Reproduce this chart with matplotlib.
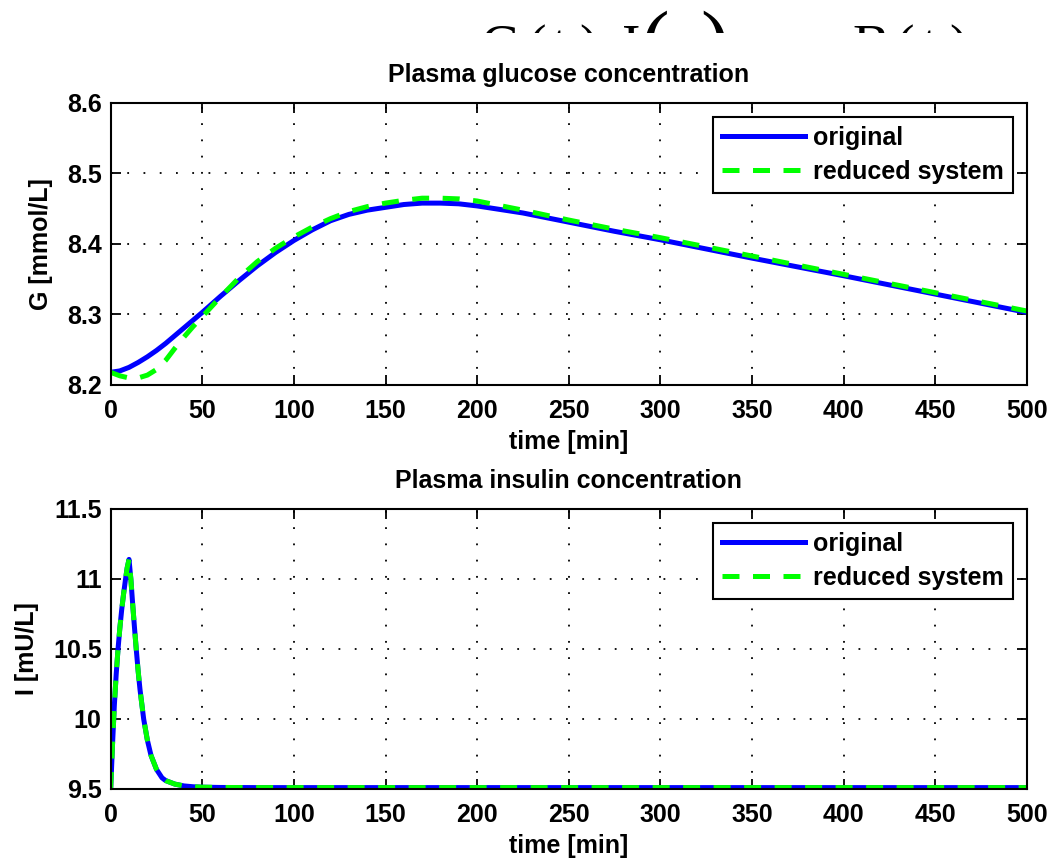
import numpy as np
import matplotlib
matplotlib.use("Agg")
from matplotlib import pyplot as plt
from matplotlib.patches import Rectangle

plt.rcParams['font.family'] = ['Liberation Sans', 'DejaVu Sans']
plt.rcParams['font.weight'] = 'bold'
plt.rcParams['axes.titleweight'] = 'bold'
plt.rcParams['axes.labelweight'] = 'bold'
plt.rcParams['font.size'] = 18

# glucose
t_glu = [0, 5, 10, 15, 20, 25, 30, 35, 40, 45, 50, 60, 70, 80, 90, 100, 110, 120,
         130, 140, 150, 160, 170, 180, 190, 200, 225, 250, 275, 300, 350, 400, 450, 500]
G_original = [8.218, 8.220, 8.225, 8.232, 8.240, 8.249, 8.259, 8.270, 8.281, 8.292,
              8.303, 8.326, 8.348, 8.369, 8.388, 8.405, 8.420, 8.433, 8.442, 8.448,
              8.452, 8.456, 8.458, 8.458, 8.457, 8.454, 8.444, 8.431, 8.418, 8.406,
              8.380, 8.355, 8.329, 8.303]
G_reduced = [8.218, 8.213, 8.210, 8.210, 8.214, 8.222, 8.235, 8.252, 8.268, 8.283,
             8.297, 8.325, 8.352, 8.375, 8.394, 8.410, 8.424, 8.436, 8.446, 8.453,
             8.458, 8.462, 8.465, 8.465, 8.464, 8.461, 8.448, 8.434, 8.421, 8.409,
             8.383, 8.357, 8.331, 8.305]

# insulin
t_ins = [0, 1, 2, 3, 4, 5, 6, 7, 8, 9, 10, 11, 12, 13, 14, 15, 16, 18, 20, 22, 25,
         28, 30, 35, 40, 45, 50, 60, 80, 100, 150, 200, 300, 400, 500]
I_original = [9.50, 9.82, 10.10, 10.32, 10.50, 10.65, 10.78, 10.89, 10.99, 11.08,
              11.14, 11.00, 10.82, 10.65, 10.49, 10.34, 10.21, 10.00, 9.85, 9.74,
              9.64, 9.58, 9.56, 9.535, 9.522, 9.516, 9.513, 9.511, 9.51, 9.51,
              9.51, 9.51, 9.51, 9.51, 9.51]
I_reduced = [9.50, 9.82, 10.10, 10.32, 10.50, 10.65, 10.78, 10.89, 10.99, 11.08,
             11.14, 11.00, 10.82, 10.65, 10.49, 10.34, 10.21, 10.00, 9.85, 9.74,
             9.64, 9.58, 9.56, 9.535, 9.522, 9.516, 9.513, 9.511, 9.51, 9.51,
             9.51, 9.51, 9.51, 9.51, 9.51]

x_ticks = [0, 50, 100, 150, 200, 250, 300, 350, 400, 450, 500]
g_ticks = [8.2, 8.3, 8.4, 8.5, 8.6]
g_labels = ['8.2', '8.3', '8.4', '8.5', '8.6']
i_ticks = [9.5, 10, 10.5, 11, 11.5]
i_labels = ['9.5', '10', '10.5', '11', '11.5']

W, H = 1051, 865
fig = plt.figure(figsize=(W / 100, H / 100), dpi=100)

# clipped equation from the page above the figure (only the tops show)
serif = ['Liberation Serif', 'DejaVu Serif']
eq_small = [('G', 481), ('(', 527), ('t', 552), (')', 579), ('I', 622),
            ('B', 852), ('(', 895), ('t', 921), (')', 949)]
for s, px in eq_small:
    fig.text(px / W, 1 - 64 / H, s, family=serif, weight='normal', fontsize=40,
             va='baseline', ha='left', zorder=-2)
for s, px in [('(', 640), (')', 700)]:
    fig.text(px / W, 1 - 70 / H, s, family=serif, weight='normal', fontsize=62,
             va='baseline', ha='left', zorder=-2)
fig.add_artist(Rectangle((0, 1 - 110 / H), 1, (110 - 33) / H, transform=fig.transFigure,
                         facecolor='white', edgecolor='none', zorder=-1))

ax1 = fig.add_axes([110.7 / W, 1 - 385 / H, 916 / W, 282 / H])
ax2 = fig.add_axes([110.7 / W, 1 - 789 / H, 916 / W, 280 / H])

dash = (0, (3.4, 2.7))
ax1.plot(t_glu, G_original, color=(0, 0, 1), lw=3.6, label='original')
ax1.plot(t_glu, G_reduced, color=(0, 1, 0), lw=3.6, linestyle=dash, label='reduced system')
ax2.plot(t_ins, I_original, color=(0, 0, 1), lw=3.6, label='original')
ax2.plot(t_ins, I_reduced, color=(0, 1, 0), lw=3.6, linestyle=dash, label='reduced system')

ax1.set_title('Plasma glucose concentration', fontsize=18, pad=15)
ax1.set_ylabel('G [mmol/L]', labelpad=10)
ax1.set_ylim(8.2, 8.6)
ax1.set_yticks(g_ticks)
ax1.set_yticklabels(g_labels)

ax2.set_title('Plasma insulin concentration', fontsize=18, pad=15)
ax2.set_ylabel('I [mU/L]', labelpad=10)
ax2.set_ylim(9.5, 11.5)
ax2.set_yticks(i_ticks)
ax2.set_yticklabels(i_labels)

for ax in (ax1, ax2):
    ax.set_xlim(0, 500)
    ax.set_xticks(x_ticks)
    ax.set_xlabel('time [min]', labelpad=5)
    ax.grid(True, color='k', linestyle=(0, (1.0, 8.0)), linewidth=1.3)
    ax.tick_params(direction='in', top=True, right=True, length=7, width=1.3,
                   labelsize=18)
    ax.tick_params(axis='x', pad=10)
    ax.tick_params(axis='y', pad=6.5)
    for sp in ax.spines.values():
        sp.set_linewidth(1.5)
    leg = ax.legend(loc='upper right', fontsize=18, handlelength=3.3, handletextpad=0.35,
                    borderpad=0.35, labelspacing=0.42, borderaxespad=0.55,
                    fancybox=False, edgecolor='k', framealpha=1)
    leg.get_frame().set_linewidth(1.5)

fig.savefig('out.png', dpi=100)
